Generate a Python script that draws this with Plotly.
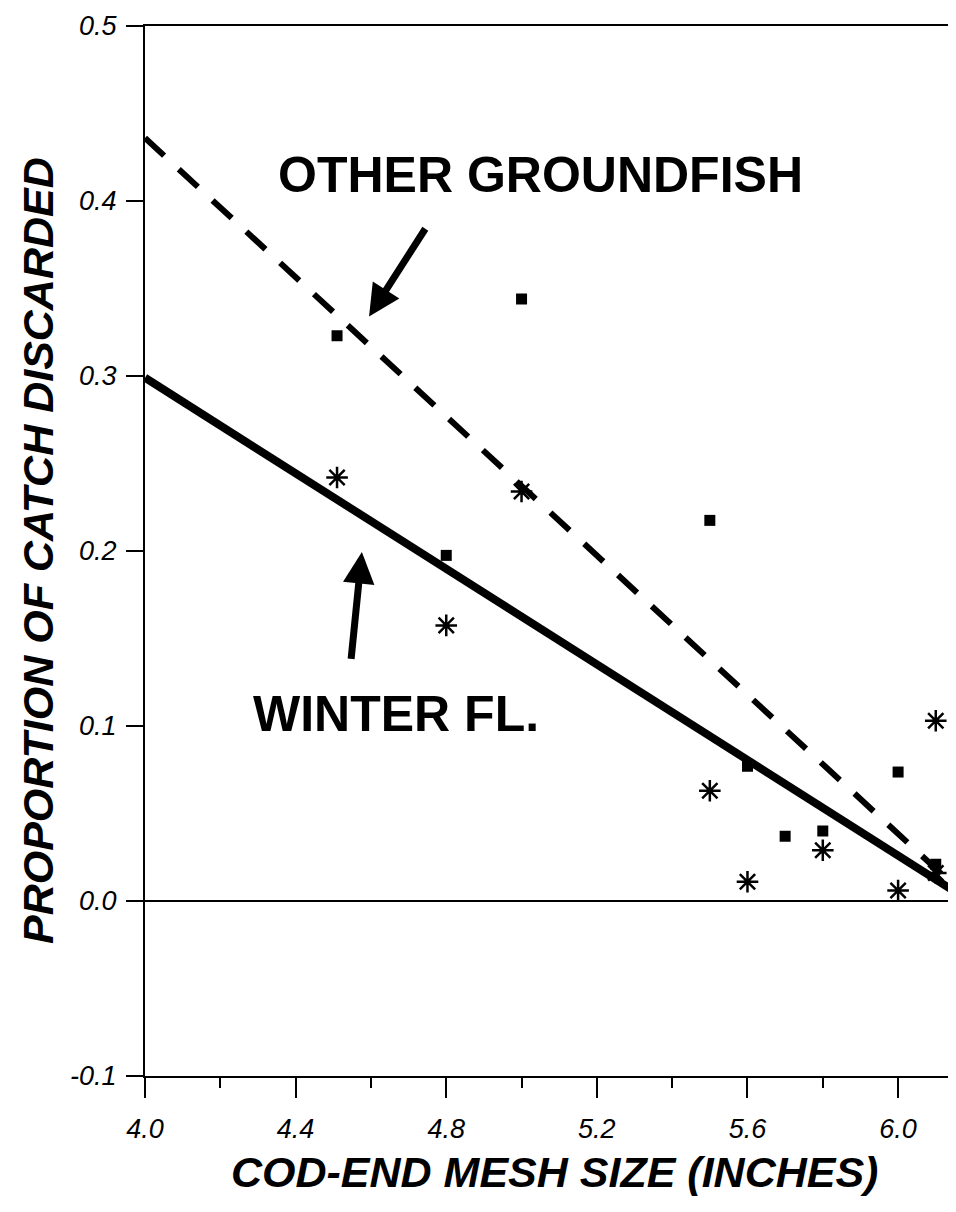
import plotly.graph_objects as go

# ---- data ----
mesh_other = [4.51, 5.00, 4.80, 5.50, 5.60, 5.70, 5.80, 6.00, 6.10]
disc_other = [0.323, 0.344, 0.1975, 0.2175, 0.077, 0.037, 0.040, 0.0737, 0.021]

mesh_winter = [4.51, 5.00, 4.80, 5.50, 5.60, 5.80, 6.00, 6.10, 6.10]
disc_winter = [0.242, 0.234, 0.1575, 0.063, 0.011, 0.029, 0.006, 0.103, 0.016]

fit_x = [4.0, 6.175]
fit_other = [0.436, 0.0036]
fit_winter = [0.299, 0.0021]

x_tick_vals = [4.0, 4.4, 4.8, 5.2, 5.6, 6.0]
x_tick_text = ["4.0", "4.4", "4.8", "5.2", "5.6", "6.0"]
y_tick_vals = [-0.1, 0.0, 0.1, 0.2, 0.3, 0.4, 0.5]
y_tick_text = ["-0.1", "0.0", "0.1", "0.2", "0.3", "0.4", "0.5"]

SANS = "Liberation Sans, Arial, Helvetica, sans-serif"

fig = go.Figure()

fig.add_trace(go.Scatter(
    x=fit_x, y=fit_other, mode="lines",
    line=dict(color="black", width=6, dash="26px,20px"),
    showlegend=False, hoverinfo="skip"))
fig.add_trace(go.Scatter(
    x=fit_x, y=fit_winter, mode="lines",
    line=dict(color="black", width=8),
    showlegend=False, hoverinfo="skip"))
fig.add_trace(go.Scatter(
    x=mesh_other, y=disc_other, mode="markers",
    marker=dict(symbol="square", size=11, color="black"),
    showlegend=False))
fig.add_trace(go.Scatter(
    x=mesh_winter, y=disc_winter, mode="markers",
    marker=dict(symbol="asterisk-open", size=18, color="black",
                line=dict(color="black", width=2.5)),
    showlegend=False))

fig.update_layout(
    width=956, height=1212,
    margin=dict(l=137, r=0, t=18, b=144),
    paper_bgcolor="white", plot_bgcolor="white",
    showlegend=False,
    xaxis=dict(
        range=[4.0, 6.175], showgrid=False, zeroline=False,
        showline=True, linecolor="black", linewidth=2, mirror=True,
        ticks="outside", ticklen=20, tickwidth=2, tickcolor="black",
        tickvals=x_tick_vals, ticktext=x_tick_text,
        ticklabelstandoff=8,
        tickfont=dict(family=SANS, size=27, color="black", style="italic"),
        minor=dict(dtick=0.2, tick0=4.0, ticks="outside", ticklen=10,
                   tickwidth=2, tickcolor="black", showgrid=False),
    ),
    yaxis=dict(
        range=[-0.1, 0.5], showgrid=False,
        zeroline=True, zerolinecolor="black", zerolinewidth=2,
        showline=True, linecolor="black", linewidth=2, mirror=False,
        ticks="outside", ticklen=17, tickwidth=2, tickcolor="black",
        tickvals=y_tick_vals, ticktext=y_tick_text,
        ticklabelstandoff=4,
        tickfont=dict(family=SANS, size=27, color="black", style="italic"),
    ),
)

# axis titles
fig.add_annotation(
    text="PROPORTION OF CATCH DISCARDED", xref="paper", yref="paper",
    x=0, y=0.5, xanchor="center", yanchor="middle", xshift=-107,
    textangle=-90, showarrow=False,
    font=dict(family=SANS, size=43, color="black", weight="bold", style="italic"))
fig.add_annotation(
    text="COD-END MESH SIZE (INCHES)", xref="paper", yref="paper",
    x=0.5, y=0, xanchor="center", yanchor="middle", yshift=-96,
    showarrow=False,
    font=dict(family=SANS, size=43, color="black", weight="bold", style="italic"))

# labels
fig.add_annotation(
    text="OTHER GROUNDFISH", x=5.05, y=0.415, xref="x", yref="y",
    showarrow=False,
    font=dict(family=SANS, size=50, color="black", weight="bold"))
fig.add_annotation(
    text="WINTER FL.", x=4.667, y=0.107, xref="x", yref="y",
    showarrow=False,
    font=dict(family=SANS, size=50, color="black", weight="bold"))

# arrows
fig.add_annotation(
    x=4.595, y=0.334, ax=4.747, ay=0.385, xref="x", yref="y",
    axref="x", ayref="y", text="", showarrow=True,
    arrowhead=2, arrowsize=0.9, arrowwidth=7, arrowcolor="black")
fig.add_annotation(
    x=4.576, y=0.1994, ax=4.547, ay=0.1375, xref="x", yref="y",
    axref="x", ayref="y", text="", showarrow=True,
    arrowhead=2, arrowsize=0.9, arrowwidth=7, arrowcolor="black")

fig.write_html("out.html")
